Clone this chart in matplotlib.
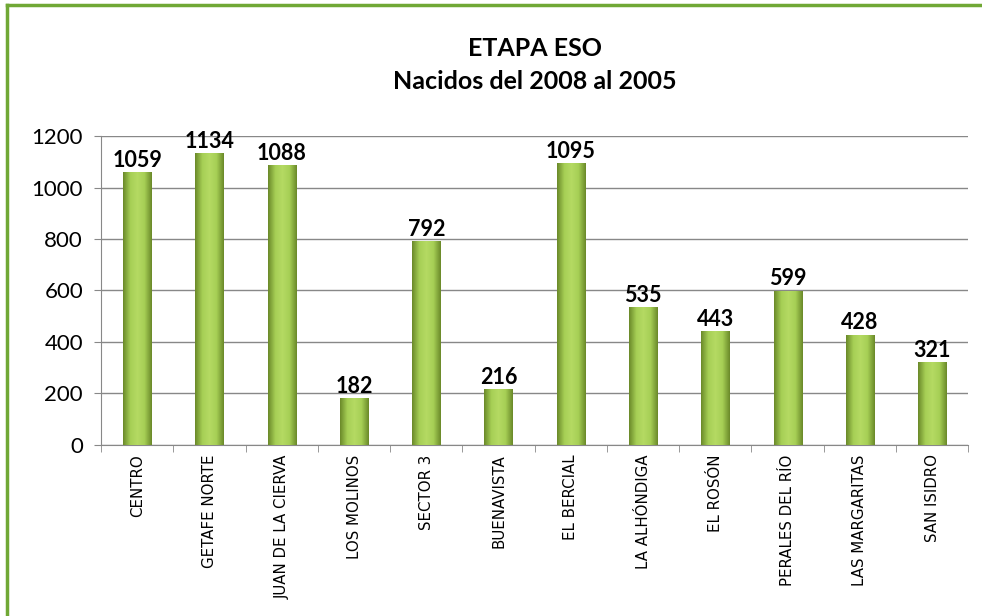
import numpy as np
import matplotlib
matplotlib.use('Agg')
import matplotlib.pyplot as plt
from matplotlib.lines import Line2D
from matplotlib.colors import LinearSegmentedColormap

# datos
barrios = ['CENTRO', 'GETAFE NORTE', 'JUAN DE LA CIERVA', 'LOS MOLINOS', 'SECTOR 3',
           'BUENAVISTA', 'EL BERCIAL', 'LA ALHÓNDIGA', 'EL ROSÓN', 'PERALES DEL RÍO',
           'LAS MARGARITAS', 'SAN ISIDRO']
nacidos = [1059, 1134, 1088, 182, 792, 216, 1095, 535, 443, 599, 428, 321]
yticks = [0, 200, 400, 600, 800, 1000, 1200]

fig = plt.figure(figsize=(9.82, 6.16), dpi=100)
# marco verde (solo arriba e izquierda visibles)
fig.lines.append(Line2D([0.007, 1.0], [0.992, 0.992], transform=fig.transFigure,
                        color='#70A835', linewidth=2.5))
fig.lines.append(Line2D([0.007, 0.007], [0.0, 0.992], transform=fig.transFigure,
                        color='#70A835', linewidth=2.5))

ax = fig.add_axes([0.103, 0.278, 0.883, 0.501])
x = np.arange(len(barrios))
bw = 0.39
bars = ax.bar(x, nacidos, width=bw, color='#9BC448', zorder=2)

# degradado horizontal de las barras
cmap = LinearSegmentedColormap.from_list('verde', ['#6B8A2A', '#A6CF55', '#B5DA63', '#A6CF55', '#6B8A2A'])
grad = np.linspace(0, 1, 64).reshape(1, -1)
for b in bars:
    x0, w, h = b.get_x(), b.get_width(), b.get_height()
    im = ax.imshow(grad, cmap=cmap, aspect='auto', extent=(x0, x0 + w, 0, h), zorder=3)
    im.set_clip_path(b)
    ax.text(x0 + w / 2, h + 5, str(h), ha='center', va='bottom', fontsize=15.5,
            fontweight='bold', family='Lato', zorder=5)

ax.set_xlim(-0.5, len(barrios) - 0.5)
ax.set_ylim(0, 1200)
ax.set_yticks(yticks)
ax.set_yticklabels([str(v) for v in yticks], fontsize=16, family='Lato')
ax.set_xticks(x)
ax.set_xticklabels(barrios, rotation=90, fontsize=10.8, family='DejaVu Sans')
ax.tick_params(axis='x', length=0, pad=7)
ax.set_xticks(np.arange(-0.5, len(barrios), 1), minor=True)
ax.tick_params(axis='x', which='minor', length=5, color='#888888')
ax.tick_params(axis='y', length=5, color='#888888', pad=8)
ax.grid(axis='y', color='#888888', linewidth=1, zorder=0)
ax.set_axisbelow(True)
for s in ['top', 'right']:
    ax.spines[s].set_visible(False)
ax.spines['left'].set_color('#888888')
ax.spines['bottom'].set_color('#888888')

fig.text(0.545, 0.922, 'ETAPA ESO', ha='center', va='center', fontsize=18,
         fontweight='bold', family='Lato')
fig.text(0.545, 0.868, 'Nacidos del 2008 al 2005', ha='center', va='center', fontsize=18,
         fontweight='bold', family='Lato')

plt.savefig('out.png', dpi=100)
